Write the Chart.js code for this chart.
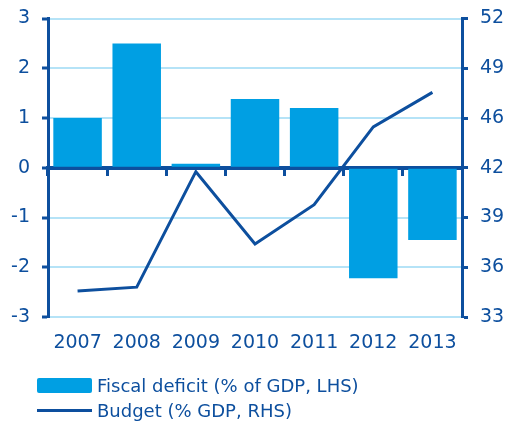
<!DOCTYPE html>
<html>
<head>
<meta charset="utf-8">
<script src="https://cdn.jsdelivr.net/npm/chart.js@4"></script>
<style>
    body { margin: 0; background: #fff; }
    #wrap { position: relative; width: 511px; height: 425px; }
    .legend { position: absolute; left: 37px; font-family: "DejaVu Sans", sans-serif; font-size: 18px; color: #0d4f9e; }
    .legend div { position: relative; height: 25px; line-height: 25px; padding-left: 60px; white-space: nowrap; }
    .swatch-bar { position: absolute; left: 0; top: 5px; width: 55px; height: 15px; background: #009fe3; border-radius: 2px; }
    .swatch-line { position: absolute; left: 0; top: 11px; width: 55px; height: 3px; background: #0d4f9e; }
</style>
</head>
<body>
<div id="wrap">
    <canvas id="fiscalChart" width="511" height="425"></canvas>
    <div class="legend" style="top: 373px;">
        <div><span class="swatch-bar"></span>Fiscal deficit (% of GDP, LHS)</div>
        <div><span class="swatch-line"></span>Budget (% GDP, RHS)</div>
    </div>
</div>
<script>
const years = ['2007', '2008', '2009', '2010', '2011', '2012', '2013'];
const fiscalDeficit = [1.0, 2.5, 0.08, 1.38, 1.2, -2.22, -1.45];
const budget = [34.65, 34.9, 42.25, 37.65, 40.15, 45.1, 47.3];
const rightTickLabels = ['33', '36', '39', '42', '46', '49', '52'];

const darkBlue = '#0d4f9e';
const barBlue = '#009fe3';
const gridBlue = '#b5e3f7';

const ctx = document.getElementById('fiscalChart').getContext('2d');

// drop the label half-heights so the plot area starts right at the padding
function fixVertical(width) {
    return scale => {
        scale.width = width;
        scale.paddingTop = 0;
        scale.paddingBottom = 0;
    };
}

const fiscalChart = new Chart(ctx, {
    type: 'bar',
    data: {
        labels: years,
        datasets: [{
            type: 'line',
            label: 'Budget (% GDP, RHS)',
            data: budget,
            yAxisID: 'y2',
            borderColor: darkBlue,
            borderWidth: 3,
            pointRadius: 0,
            order: 0
        }, {
            label: 'Fiscal deficit (% of GDP, LHS)',
            data: fiscalDeficit,
            yAxisID: 'y',
            backgroundColor: barBlue,
            barPercentage: 0.82,
            categoryPercentage: 1,
            order: 1
        }]
    },
    options: {
        responsive: false,
        animation: false,
        layout: { padding: { top: 18.5, bottom: 73 } },
        plugins: { legend: { display: false }, tooltip: { enabled: false } },
        scales: {
            x: {
                offset: true,
                grid: { display: false },
                border: { display: false },
                ticks: { color: darkBlue, font: { family: 'DejaVu Sans', size: 19 }, padding: 7 },
                afterFit: scale => { scale.height = 35; }
            },
            // zero line with the small year separators
            x2: {
                type: 'category',
                labels: years,
                position: { y: 0 },
                offset: true,
                grid: { offset: true, drawOnChartArea: false, tickLength: 6, tickWidth: 3, tickColor: darkBlue },
                border: { color: darkBlue, width: 4 },
                ticks: { display: false },
                afterFit: scale => { scale.height = 0; }
            },
            y: {
                position: 'left',
                min: -3,
                max: 3,
                ticks: { stepSize: 1, color: darkBlue, font: { family: 'DejaVu Sans', size: 19 }, padding: 12 },
                grid: { color: gridBlue, lineWidth: 2, tickColor: darkBlue, tickLength: 6, tickWidth: 3 },
                border: { color: darkBlue, width: 3 },
                afterFit: fixVertical(48)
            },
            y2: {
                position: 'right',
                min: 33,
                max: 52,
                // seven evenly spaced ticks lined up with the left axis
                afterBuildTicks: scale => {
                    scale.ticks = rightTickLabels.map((t, i) => ({ value: 33 + i * 19 / 6 }));
                },
                ticks: {
                    color: darkBlue,
                    font: { family: 'DejaVu Sans', size: 19 },
                    padding: 12,
                    callback: (value, index) => rightTickLabels[index]
                },
                grid: { drawOnChartArea: false, tickColor: darkBlue, tickLength: 6, tickWidth: 3 },
                border: { color: darkBlue, width: 3 },
                afterFit: fixVertical(49)
            }
        }
    }
});
</script>
</body>
</html>
